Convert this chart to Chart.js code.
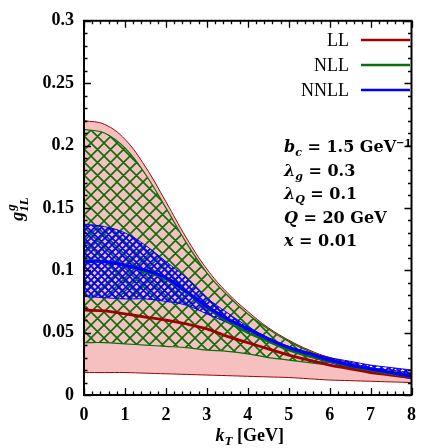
<!DOCTYPE html>
<html><head><meta charset="utf-8">
<script src="https://cdn.jsdelivr.net/npm/chart.js@4.4.0/dist/chart.umd.min.js"></script>
<style>html,body{margin:0;padding:0;background:#fff}canvas{display:block}</style>
</head><body>
<canvas id="c" width="426" height="448"></canvas>
<script>
// ---- data ----
const kT          = [0,0.5,1,1.5,2,2.5,3,3.5,4,4.5,5,5.5,6,6.5,7,7.5,8];
const llUpper     = [0.220,0.217,0.205,0.183,0.155,0.126,0.101,0.082,0.067,0.054,0.044,0.036,0.030,0.026,0.022,0.020,0.018];
const llLower     = [0.018,0.018,0.018,0.0175,0.017,0.0165,0.016,0.0155,0.015,0.0145,0.014,0.013,0.012,0.0115,0.011,0.0105,0.010];
const llCentral   = [0.068,0.0675,0.065,0.0625,0.060,0.057,0.053,0.047,0.042,0.037,0.032,0.028,0.024,0.021,0.018,0.016,0.014];
const nllUpper    = [0.213,0.210,0.198,0.177,0.150,0.122,0.098,0.080,0.065,0.053,0.043,0.035,0.029,0.025,0.021,0.019,0.017];
const nllLower    = [0.042,0.042,0.041,0.040,0.039,0.038,0.036,0.035,0.033,0.030,0.028,0.026,0.024,0.022,0.020,0.018,0.016];
const nllCentral  = [0.108,0.107,0.104,0.099,0.093,0.082,0.070,0.059,0.050,0.043,0.036,0.031,0.027,0.023,0.020,0.017,0.015];
const nnllUpper   = [0.137,0.135,0.130,0.120,0.107,0.094,0.078,0.066,0.055,0.046,0.039,0.034,0.030,0.027,0.024,0.022,0.020];
const nnllLower   = [0.079,0.078,0.077,0.077,0.075,0.072,0.065,0.058,0.050,0.043,0.036,0.031,0.026,0.022,0.019,0.016,0.013];
const nnllCentral = [0.107,0.107,0.104,0.100,0.094,0.083,0.071,0.061,0.053,0.045,0.038,0.033,0.028,0.024,0.021,0.018,0.015];
const seriesNames = ['LL','NLL','NNLL'];
const xTickValues = [0,1,2,3,4,5,6,7,8];
const yTickValues = [0,0.05,0.1,0.15,0.2,0.25,0.3];
const annotationLines = [
  [['b','bi'],['c','subi'],[' = 1.5 GeV','b'],['\u22121','sup']],
  [['\u03bb','bi'],['g','subi'],[' = 0.3','b']],
  [['\u03bb','bi'],['Q','subi'],[' = 0.1','b']],
  [['Q','bi'],[' = 20 GeV','b']],
  [['x','bi'],[' = 0.01','b']]
];

// ---- styles ----
const SERIF = '"Liberation Serif", "DejaVu Serif", serif';
const DSERIF = '"DejaVu Serif", "Liberation Serif", serif';
const RED = '#a00000', GREEN = '#0a6e0a', BLUE = '#0000ff', PINK = '#f6c0c0';
const AFONTS = {
  bi: `italic bold 16px ${DSERIF}`, b: `bold 16px ${DSERIF}`,
  subi: `italic bold 11px ${DSERIF}`, sup: `bold 10px ${DSERIF}`
};
const XFONTS = {
  bi: `italic bold 18px ${SERIF}`, b: `bold 18px ${SERIF}`,
  subi: `italic bold 13px ${SERIF}`, sup: `bold 12px ${SERIF}`
};
const DY = { bi:0, b:0, subi:4, sup:-6 };

function hatch(size, color, lw) {
  const c = document.createElement('canvas'); c.width = c.height = size;
  const g = c.getContext('2d'); g.strokeStyle = color; g.lineWidth = lw;
  g.beginPath();
  for (const k of [-size, 0, size]) {
    g.moveTo(-2, -2 + k); g.lineTo(size + 2, size + 2 + k);
    g.moveTo(-2, size + 2 + k); g.lineTo(size + 2, -2 + k);
  }
  g.stroke();
  return g.createPattern(c, 'repeat');
}
const greenHatch = hatch(13, GREEN, 1.6);
const blueHatch = hatch(7, BLUE, 1.7);

const pts = arr => kT.map((x, i) => ({ x, y: arr[i] }));
const base = { pointRadius: 0, tension: 0.4, fill: false };

const datasets = [
  { ...base, data: pts(llUpper), borderColor: RED, borderWidth: 1, fill: '+1', backgroundColor: PINK, order: 12 },
  { ...base, data: pts(llLower), borderColor: RED, borderWidth: 1, order: 11 },
  { ...base, data: pts(nllUpper), borderColor: GREEN, borderWidth: 1.2, fill: '+1', backgroundColor: greenHatch, order: 10 },
  { ...base, data: pts(nllLower), borderColor: GREEN, borderWidth: 1.2, order: 9 },
  { ...base, data: pts(nnllUpper), borderColor: BLUE, borderWidth: 1, fill: '+1', backgroundColor: blueHatch, order: 8 },
  { ...base, data: pts(nnllLower), borderColor: BLUE, borderWidth: 1, order: 7 },
  { ...base, label: seriesNames[0], data: pts(llCentral), borderColor: RED, borderWidth: 2.8, order: 3 },
  { ...base, label: seriesNames[1], data: pts(nllCentral), borderColor: GREEN, borderWidth: 2.6, order: 2 },
  { ...base, label: seriesNames[2], data: pts(nnllCentral), borderColor: BLUE, borderWidth: 3.2, order: 1 }
];

function drawRich(ctx, x, y, parts, fonts) {
  for (const [t, f] of parts) {
    ctx.font = fonts[f];
    ctx.fillText(t, x, y + DY[f]);
    x += ctx.measureText(t).width;
  }
  return x;
}

const decor = {
  id: 'decor',
  afterDraw(chart) {
    const { ctx, chartArea: a, scales: { x, y } } = chart;
    ctx.save();
    ctx.strokeStyle = '#000'; ctx.lineWidth = 1.3;
    ctx.beginPath();
    for (let i = 0; i <= 40; i++) {
      const v = xTickValues[0] + i * 0.2;
      const px = Math.round(x.getPixelForValue(v)) + 0.5;
      const len = i % 5 === 0 ? 7 : 3.5;
      ctx.moveTo(px, a.bottom); ctx.lineTo(px, a.bottom - len);
      ctx.moveTo(px, a.top); ctx.lineTo(px, a.top + len);
    }
    for (let i = 0; i <= 30; i++) {
      const v = i * 0.01;
      const py = Math.round(y.getPixelForValue(v)) + 0.5;
      const len = i % 5 === 0 ? 7 : 3.5;
      ctx.moveTo(a.left, py); ctx.lineTo(a.left + len, py);
      ctx.moveTo(a.right, py); ctx.lineTo(a.right - len, py);
    }
    ctx.stroke();
    ctx.lineWidth = 2;
    ctx.strokeRect(a.left, a.top, a.right - a.left, a.bottom - a.top);

    // legend
    ctx.fillStyle = '#000';
    ctx.textBaseline = 'alphabetic';
    const legendColors = [RED, GREEN, BLUE];
    const legendY = [40, 65, 90];
    seriesNames.forEach((name, i) => {
      ctx.font = `18px ${SERIF}`;
      ctx.textAlign = 'right';
      ctx.fillText(name, 349, legendY[i] + 6);
      ctx.strokeStyle = legendColors[i]; ctx.lineWidth = 2.6;
      ctx.beginPath(); ctx.moveTo(361, legendY[i]); ctx.lineTo(410, legendY[i]); ctx.stroke();
    });

    // annotation
    ctx.textAlign = 'left';
    annotationLines.forEach((parts, i) => drawRich(ctx, 284, 152 + i * 23.5, parts, AFONTS));

    // x title
    const xt = [['k','bi'],['T','subi'],[' [GeV]','b']];
    let w = 0; for (const [t,f] of xt) { ctx.font = XFONTS[f]; w += ctx.measureText(t).width; }
    drawRich(ctx, (a.left + a.right) / 2 - w / 2 + 2, 441, xt, XFONTS);

    // y title g^g_{1L}
    ctx.save();
    ctx.translate(23, 209);
    ctx.rotate(-Math.PI / 2);
    ctx.font = XFONTS.bi; const gw = ctx.measureText('g').width;
    ctx.font = XFONTS.subi; const sw = ctx.measureText('1L').width;
    const x0 = -(gw + sw) / 2;
    ctx.font = XFONTS.bi; ctx.fillText('g', x0, 0);
    ctx.font = XFONTS.subi; ctx.fillText('g', x0 + gw + 1, -8); ctx.fillText('1L', x0 + gw, 5);
    ctx.restore();
    ctx.restore();
  }
};

new Chart(document.getElementById('c'), {
  type: 'line',
  data: { datasets },
  options: {
    responsive: false, animation: false, devicePixelRatio: 1,
    layout: { padding: { top: 17, right: 5, left: 0, bottom: 0 } },
    plugins: { legend: { display: false }, tooltip: { enabled: false }, filler: { propagate: false } },
    scales: {
      x: {
        type: 'linear', min: 0, max: 8,
        afterFit: s => { s.height = 53; },
        afterBuildTicks: s => { s.ticks = xTickValues.map(v => ({ value: v })); },
        grid: { display: false, drawTicks: false }, border: { display: false },
        ticks: { padding: 10, color: '#000', font: { family: SERIF, size: 18, weight: 'bold' }, maxRotation: 0, callback: v => String(v) }
      },
      y: {
        type: 'linear', min: 0, max: 0.3,
        afterFit: s => { s.width = 84; },
        afterBuildTicks: s => { s.ticks = yTickValues.map(v => ({ value: v })); },
        grid: { display: false, drawTicks: false }, border: { display: false },
        ticks: { padding: 10, color: '#000', font: { family: SERIF, size: 18, weight: 'bold' }, callback: v => String(+v.toFixed(2)) }
      }
    }
  },
  plugins: [decor]
});
</script>
</body></html>
